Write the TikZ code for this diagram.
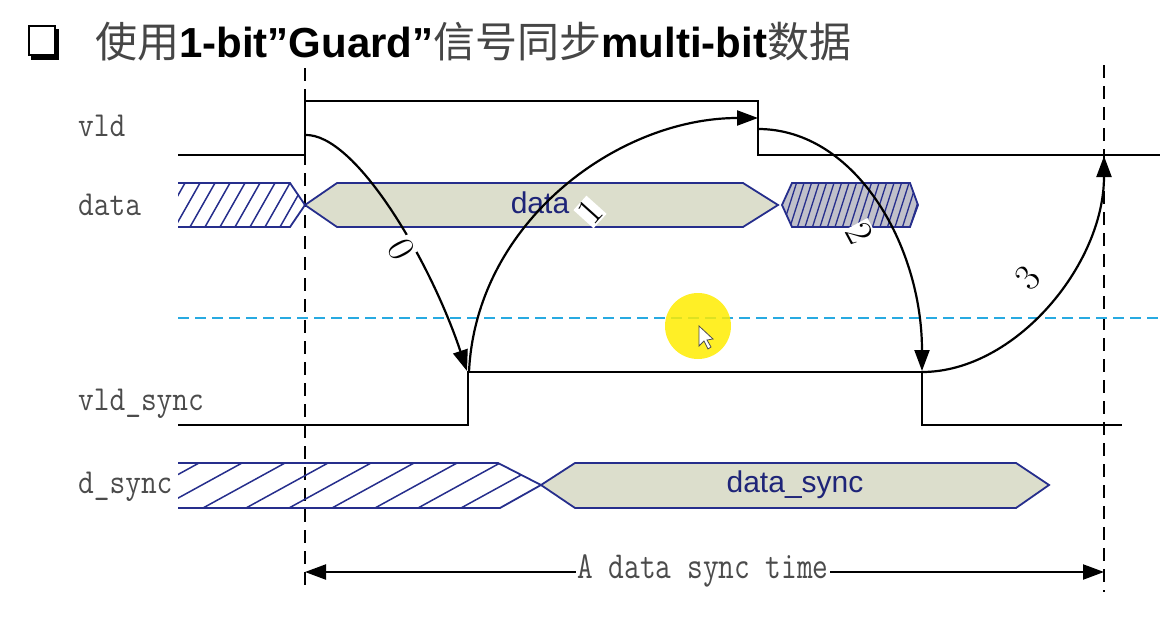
\documentclass[tikz,border=0pt]{standalone}
\usepackage{fontspec}
\setsansfont{Liberation Sans}
\newfontfamily\cjk{Noto Sans CJK SC}
\usetikzlibrary{arrows.meta}
\definecolor{navy}{RGB}{38,46,140}
\definecolor{navytext}{RGB}{30,36,120}
\definecolor{busfill}{RGB}{220,222,204}
\definecolor{hatchgrey}{RGB}{192,192,202}
\definecolor{cyanline}{RGB}{40,170,225}
\definecolor{labgrey}{RGB}{75,75,75}
\definecolor{titlegrey}{RGB}{70,70,70}
\definecolor{hilite}{RGB}{255,236,0}
\begin{document}
\begin{tikzpicture}[x=1pt,y=-1pt,
  wave/.style={line width=2.2pt, black, line join=miter},
  bus/.style={line width=1.8pt, draw=navy, line join=miter},
  hatchln/.style={line width=1.5pt, navy},
  guide/.style={line width=1.6pt, dash pattern=on 13pt off 8pt, black},
  flow/.style={line width=2.2pt, -{Triangle[length=21pt,width=15pt]}},
  sig/.style={font=\ttfamily\fontsize{30.5}{30}\selectfont, text=labgrey, anchor=west, inner sep=0pt},
  num/.style={font=\fontsize{38}{38}\selectfont, fill=white, inner sep=1pt},
  bustext/.style={font=\sffamily\fontsize{30}{30}\selectfont, text=navytext, inner sep=0pt},
]
\useasboundingbox (0,0) rectangle (1165,621);

% title
\draw[line width=2.6pt] (29,26) rectangle (55,55);
\fill (31,55) rectangle (59,60);
\fill (55,29) rectangle (59,60);
\node[anchor=base west, inner sep=0pt] (title) at (95,57)
  {\fontsize{42}{50}\selectfont{\color{titlegrey}\cjk 使用}{\sffamily\bfseries 1-bit”Guard”}{\color{titlegrey}\cjk 信号同步}{\sffamily\bfseries multi-bit}{\color{titlegrey}\cjk 数据}};

% guides
\coordinate (gl) at (305,592);
\coordinate (gr) at (1104,592);
\draw[guide] (305,68) -- (gl);
\draw[guide] (1104,65) -- (gr);

% signal labels
\node[sig] (lvld) at (78,126) {\scalebox{1}[1.15]{vld}};
\node[sig] (ldata) at (78,205) {\scalebox{1}[1.15]{data}};
\node[sig] (lvs) at (78,404) {\scalebox{1}[1.15]{vld\_sync}};
\node[sig] (lds) at (78,487) {\scalebox{1}[1.15]{d\_sync}};

% vld
\draw[wave] (178,155) -- (305,155) -- (305,101) -- (758,101) -- (758,155) -- (1160,155);
% vld_sync
\draw[wave] (178,425) -- (468,425) -- (468,372) -- (922,372) -- (922,425) -- (1122,425);

% cyan dashed
\draw[line width=1.8pt, cyanline, dash pattern=on 11pt off 6pt] (178,318) -- (1160,318);

% data row: hatched left
\begin{scope}
\clip (178,183) -- (290,183) -- (305,205) -- (290,227) -- (178,227) -- cycle;
\foreach \x in {160,175,...,320} \draw[hatchln] (\x,227) -- ({\x+25},183);
\end{scope}
\draw[bus] (178,183) -- (290,183) -- (305,205) -- (290,227) -- (178,227);
% data valid
\draw[bus, fill=busfill] (305,205) -- (337,183) -- (743,183) -- (778,205) -- (743,227) -- (337,227) -- cycle;
\node[bustext] (tdata) at (540,203) {data};
% grey hatched
\begin{scope}
\clip (782,205) -- (792,183) -- (910,183) -- (918,205) -- (910,227) -- (792,227) -- cycle;
\fill[hatchgrey] (780,180) rectangle (920,230);
\foreach \x in {760,767.5,...,930} \draw[hatchln, line width=1.3pt] (\x,227) -- ({\x+14},183);
\end{scope}
\draw[bus] (782,205) -- (792,183) -- (910,183) -- (918,205) -- (910,227) -- (792,227) -- cycle;

% d_sync row
\begin{scope}
\clip (178,463) -- (498,463) -- (541,485) -- (500,508) -- (178,508) -- cycle;
\foreach \x in {117,160,...,560} \draw[hatchln] (\x,508) -- ({\x+82},463);
\end{scope}
\draw[bus] (178,463) -- (498,463) -- (541,485) -- (500,508) -- (178,508);
\draw[bus, fill=busfill] (541,485) -- (575,463) -- (1016,463) -- (1049,485) -- (1016,508) -- (575,508) -- cycle;
\node[bustext] (tds) at (795,485) {data\_sync};

% arrows
\coordinate (a0) at (305,135);
\coordinate (b0) at (467,371);
\coordinate (a1) at (469,372);
\coordinate (b1) at (758,118);
\coordinate (a2) at (758,129);
\coordinate (b2) at (922,371);
\coordinate (a3) at (922,372);
\coordinate (b3) at (1104,156);
\draw[flow] (a0) .. controls (355,133) and (430,260) .. (b0);
\draw[flow] (a1) .. controls (476,222) and (618,118) .. (b1);
\draw[flow] (a2) .. controls (855,129) and (922,245) .. (b2);
\draw[flow] (a3) .. controls (1015,372) and (1104,265) .. (b3);
\node[num, rotate=-62] (n0) at (401,249) {0};
\node[num, rotate=48] (n1) at (590,212) {1};
\node[num, rotate=-62] (n2) at (860,233) {2};
\node[num, rotate=50, fill=none] (n3) at (1028,278) {3};

% dimension
\coordinate (dl) at (305,572);
\coordinate (dr) at (1104,572);
\draw[line width=2.2pt, {Triangle[length=21pt,width=15pt]}-{Triangle[length=21pt,width=15pt]}] (dl) -- (dr);
\node[fill=white, inner sep=1pt, font=\ttfamily\fontsize{30.5}{30}\selectfont, text=labgrey] (dim) at (703,571) {\scalebox{1}[1.25]{A data sync time}};

% highlight cursor
\fill[hilite, opacity=0.85] (698,326) circle (33);
\draw[fill=white, line width=0.8pt, draw=black!70] (699,326) -- (699,346) -- (704,341) -- (708,349) -- (711,347) -- (707,340) -- (713,339) -- cycle;
\end{tikzpicture}
\end{document}
